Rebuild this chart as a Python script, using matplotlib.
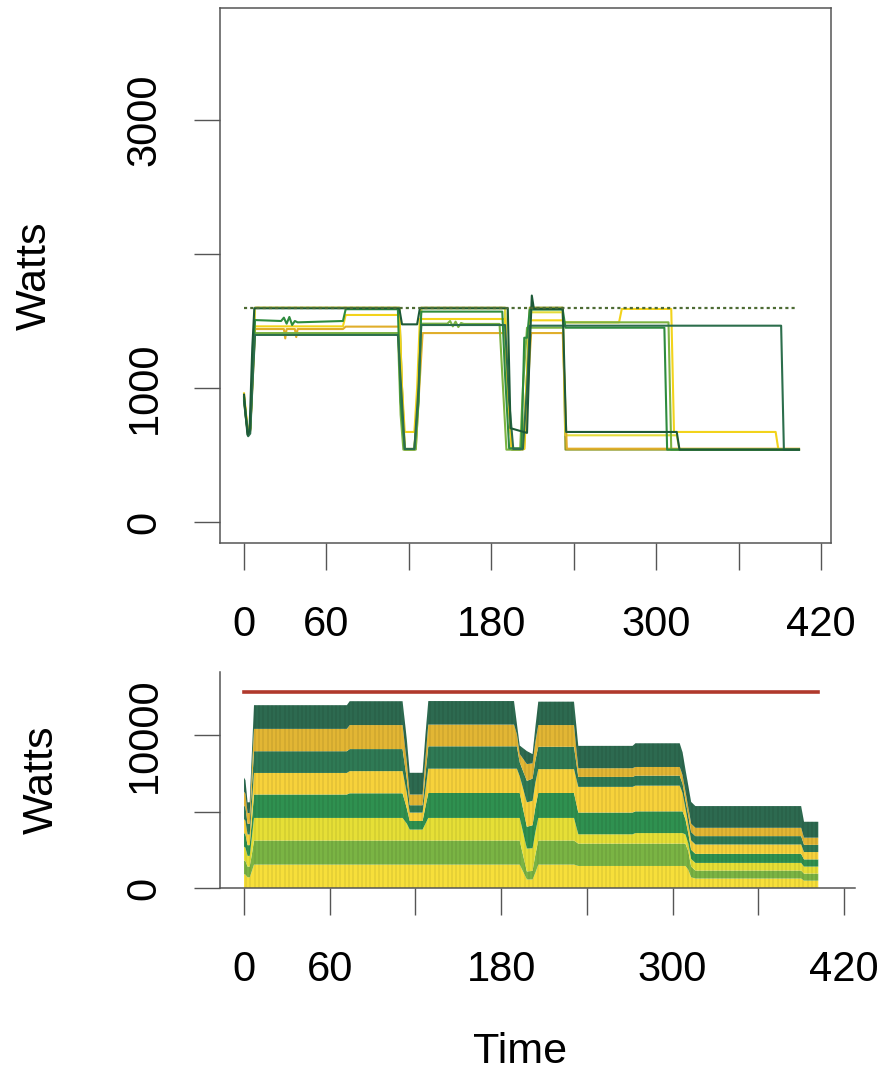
import numpy as np
import matplotlib
matplotlib.use("Agg")
import matplotlib.pyplot as plt
from matplotlib.path import Path

plt.rcParams["font.family"] = ["Liberation Sans", "DejaVu Sans"]

# ---- top panel: per-server power traces (time in s, watts) ----
cap_watts = 1600
cap_end = 401

s1_t = [0, 1, 2.5, 4, 6, 7.5, 113, 115, 126, 128, 192, 194, 206, 208, 209.5, 211, 232, 234.5, 315, 317, 404]
s1_w = [950, 820, 650, 680, 1300, 1595, 1595, 1475, 1475, 1595, 1595, 700, 665, 1300, 1690, 1590, 1590, 672, 672, 540, 540]

s2_t = [0, 1.5, 3, 4.5, 6.5, 8, 112, 115, 117, 124, 127, 129, 190, 193, 196, 203, 206, 208, 391, 393, 404]
s2_w = [900, 760, 640, 660, 1100, 1396, 1396, 900, 545, 545, 1000, 1470, 1470, 900, 545, 545, 1000, 1465, 1465, 540, 540]

s3_t = [0, 1.5, 3, 4.5, 6.5, 8, 27, 29, 31, 33, 35, 37, 39, 72, 74, 112, 114, 117, 124, 127, 129,
        188, 190, 193, 202, 204, 206, 208, 232, 234, 306, 308, 404]
s3_w = [930, 780, 660, 700, 1200, 1507, 1500, 1525, 1480, 1530, 1470, 1500, 1490, 1500, 1588, 1588, 900, 545, 545, 900, 1570,
        1570, 1100, 550, 550, 1375, 1375, 1585, 1585, 1450, 1450, 540, 540]

s4_t = [0, 1.5, 3, 4.5, 6.5, 8, 112, 114, 116, 125, 127, 129, 148, 150, 152, 154, 156, 158, 160,
        186, 188, 191, 201, 203, 206, 232, 234, 309, 311, 404]
s4_w = [920, 770, 650, 690, 1150, 1410, 1410, 800, 540, 540, 900, 1480, 1480, 1500, 1460, 1495, 1455, 1485, 1478,
        1478, 1100, 540, 540, 1000, 1450, 1450, 1490, 1490, 540, 540]

s5_t = [0, 1.5, 3, 4.5, 6.5, 8, 72, 74, 113, 115, 117, 124, 126, 128, 190, 192, 195, 204, 206, 208,
        232, 234, 273, 275, 311, 313, 387, 389, 404]
s5_w = [960, 800, 660, 700, 1150, 1460, 1460, 1545, 1545, 1000, 672, 672, 1000, 1515, 1515, 1000, 545, 545, 1100, 1505,
        1505, 1490, 1490, 1590, 1590, 672, 672, 540, 540]

s6_t = [0, 1.5, 3, 4.5, 6.5, 8, 29, 30, 31, 37, 38, 39, 72, 74, 113, 115, 117, 125, 127, 130,
        190, 192, 195, 204, 206, 209, 232, 235, 404]
s6_w = [940, 790, 655, 690, 1100, 1440, 1440, 1370, 1440, 1440, 1380, 1440, 1440, 1458, 1458, 900, 545, 545, 900, 1410,
        1410, 1000, 545, 545, 900, 1410, 1410, 547, 547]

s7_t = [0, 1.5, 3, 4.5, 6.5, 8, 113, 115, 117, 124, 127, 129, 190, 192, 195, 203, 206, 208, 232, 234, 315, 317, 404]
s7_w = [930, 790, 660, 700, 1200, 1598, 1598, 1000, 545, 545, 1000, 1595, 1595, 1000, 545, 545, 1100, 1565, 1565, 647, 647, 540, 540]

s8_t = [0, 1.5, 3, 4.5, 6.5, 8, 113, 115, 117, 124, 127, 129, 190, 192, 195, 203, 206, 208, 232, 234, 404]
s8_w = [910, 770, 645, 680, 1150, 1600, 1600, 1000, 540, 540, 1000, 1600, 1600, 1000, 540, 540, 1100, 1600, 1600, 540, 540]

line_colors = ["#8f9a2a", "#e3dc3c", "#e0ae2a", "#f2d31b", "#7cb342", "#2e8b3e", "#2c6e4c", "#1d5a38"]
traces = [(s8_t, s8_w), (s7_t, s7_w), (s6_t, s6_w), (s5_t, s5_w),
          (s4_t, s4_w), (s3_t, s3_w), (s2_t, s2_w), (s1_t, s1_w)]

# ---- bottom panel: stacked power of 8 servers ----
stack_cap = 12800
stack_t = [0, 1, 2.5, 4, 5.5, 7, 72, 74, 111, 114, 116, 125, 127, 129, 189, 191, 193, 198, 202, 204, 206,
           231, 234, 272, 274, 305, 307, 309, 311, 313, 316, 390, 392, 402]
srv1 = [900, 880, 700, 700, 1100, 1530, 1530, 1530, 1530, 1530, 1530, 1530, 1530, 1530, 1530, 1530, 1530, 560, 560, 1000, 1530,
        1530, 1440, 1440, 1440, 1440, 1440, 1440, 1200, 700, 620, 620, 480, 480]
srv2 = [900, 880, 700, 700, 1100, 1570, 1570, 1570, 1570, 1570, 1570, 1570, 1570, 1570, 1570, 1570, 1570, 520, 560, 1200, 1570,
        1570, 1460, 1460, 1460, 1460, 1460, 1460, 1200, 700, 520, 520, 460, 460]
srv3 = [900, 880, 700, 700, 1100, 1480, 1480, 1480, 1480, 1100, 720, 720, 1100, 1480, 1480, 1480, 1480, 1500, 1480, 1480, 1480,
        1480, 610, 610, 690, 690, 690, 600, 520, 500, 500, 500, 460, 460]
srv4 = [900, 880, 700, 700, 1100, 1530, 1530, 1610, 1610, 1000, 560, 560, 1100, 1630, 1630, 1630, 1630, 1420, 1500, 1630, 1630,
        1630, 1420, 1420, 1420, 1420, 1420, 1000, 650, 600, 590, 590, 470, 470]
srv5 = [900, 880, 700, 700, 1100, 1410, 1410, 1450, 1450, 1000, 550, 550, 1100, 1590, 1590, 1590, 1100, 1600, 1600, 1590, 1560,
        1560, 1680, 1680, 1680, 1680, 1200, 700, 620, 615, 615, 615, 480, 480]
srv6 = [900, 880, 700, 700, 1100, 1420, 1420, 1440, 1440, 900, 480, 480, 1000, 1460, 1460, 1460, 900, 1400, 1450, 1460, 1460,
        1460, 650, 650, 650, 650, 600, 560, 545, 545, 545, 545, 470, 470]
srv7 = [900, 880, 700, 700, 1100, 1460, 1460, 1570, 1570, 1100, 700, 700, 1100, 1420, 1420, 800, 550, 1100, 1000, 1200, 1420,
        1420, 570, 570, 570, 570, 560, 550, 545, 545, 545, 545, 470, 470]
srv8 = [910, 890, 700, 700, 1100, 1550, 1550, 1560, 1560, 1500, 1420, 1420, 1500, 1540, 1540, 700, 550, 850, 600, 1000, 1530,
        1530, 1460, 1460, 1550, 1550, 1500, 1450, 1420, 1420, 1420, 1420, 1040, 1040]
stack_colors = ["#f7df3a", "#7ab444", "#e6df36", "#2f9150", "#f7d23b", "#2f7a55", "#e2b634", "#2d6a50"]

x_ticks = [0, 60, 120, 180, 240, 300, 360, 420]
x_labels = ["0", "60", "", "180", "", "300", "", "420"]

fig = plt.figure(figsize=(8.81, 10.86), dpi=100)
W, H = 881, 1086
ax1 = fig.add_axes([220 / W, 1 - 543 / H, (831 - 220) / W, (543 - 8) / H])
ax2 = fig.add_axes([220 / W, 1 - 888 / H, (855 - 220) / W, (888 - 672) / H])

axis_col = "#555555"
fs = 30

for (t, w), c in zip(traces, line_colors):
    ax1.plot(t, w, color=c, lw=1.5, solid_joinstyle="round")
ax1.plot([0, cap_end], [cap_watts, cap_watts], color="#4d6b34", lw=1.6,
         linestyle=(0, (1.4, 1.4)))

ax1.set_xlim(-17.5, 427.3)
ax1.set_ylim(-156.7, 3835.8)
ax1.set_xticks(x_ticks, x_labels)
ax1.set_yticks([0, 1000, 2000, 3000], ["0", "1000", "", "3000"], rotation=90, va="center")
for sp in ax1.spines.values():
    sp.set_color(axis_col)
    sp.set_linewidth(1.1)

layers = np.array([srv1, srv2, srv3, srv4, srv5, srv6, srv7, srv8], dtype=float)
ax2.stackplot(stack_t, layers, colors=stack_colors, linewidth=0)
total = layers.sum(axis=0)

# faint vertical bar texture, clipped to the stacked area
verts = np.column_stack([np.r_[stack_t, stack_t[::-1]], np.r_[total, np.zeros(len(stack_t))]])
stripes = ax2.vlines(np.arange(1.5, 402, 3), 0, 14000, colors="black", alpha=0.07, lw=1.3)
stripes.set_clip_path(Path(verts), ax2.transData)

ax2.plot([0, 402], [stack_cap, stack_cap], color="#b0392c", lw=2.6)

ax2.set_xlim(-16.8, 427.7)
ax2.set_ylim(0, 14118)
ax2.set_xticks(x_ticks, x_labels)
ax2.set_yticks([0, 5000, 10000], ["0", "", "10000"], rotation=90, va="center")
ax2.spines["top"].set_visible(False)
ax2.spines["right"].set_visible(False)
for sp in ("left", "bottom"):
    ax2.spines[sp].set_color(axis_col)
    ax2.spines[sp].set_linewidth(1.1)

for ax in (ax1, ax2):
    ax.tick_params(axis="x", length=19.5, width=1.0, color=axis_col, pad=25, labelsize=fs)
    ax.tick_params(axis="y", length=19, width=1.0, color=axis_col, pad=21, labelsize=fs)

ax1.set_ylabel("Watts", fontsize=31)
ax1.yaxis.set_label_coords((35 - 220) / 611, 0.5)
ax2.set_ylabel("Watts", fontsize=31)
ax2.yaxis.set_label_coords((42 - 220) / 635, 0.5)
ax2.set_xlabel("Time", fontsize=31)
ax2.xaxis.set_label_coords((520 - 220) / 635, -(1052 - 888) / 216)
ax2.xaxis.label.set_va("center")
ax1.yaxis.label.set_va("center")
ax2.yaxis.label.set_va("center")

fig.savefig("out.png", dpi=100)
